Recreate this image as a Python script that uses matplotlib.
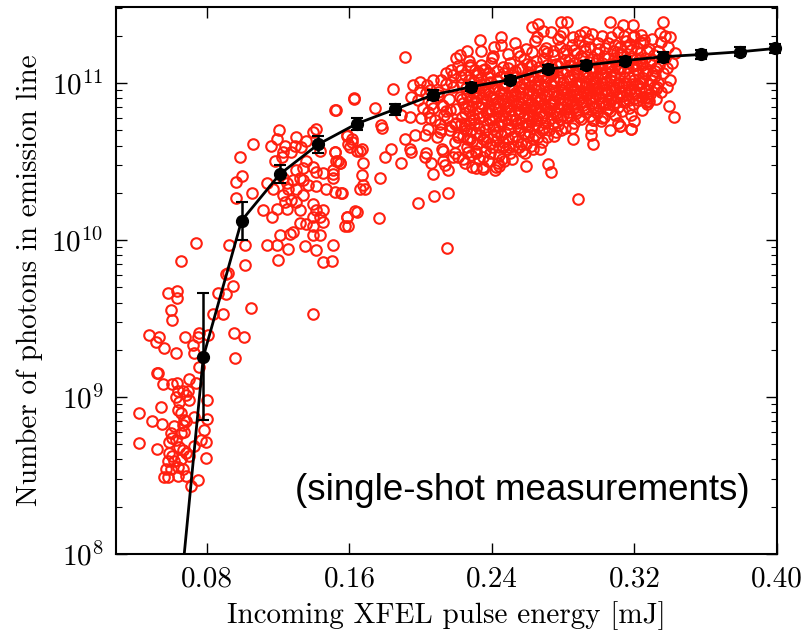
import matplotlib
matplotlib.use("Agg")
import matplotlib.pyplot as plt
import numpy as np

# single-shot measurements, (pulse energy [mJ], photons)
shots_low = [
    (0.0738, 9.6e9), (0.0922, 9.3e9), (0.1015, 9.3e9), (0.0654, 7.3e9), (0.1015, 6.9e9),
    (0.0916, 6.2e9), (0.0907, 6.1e9), (0.0948, 5.1e9), (0.0583, 4.6e9), (0.0632, 4.75e9),
    (0.0632, 4.3e9), (0.0860, 4.6e9), (0.0907, 4.5e9), (0.1047, 3.7e9), (0.0598, 3.6e9),
    (0.0604, 3.1e9), (0.0832, 3.4e9), (0.0888, 3.4e9), (0.0477, 2.5e9), (0.0533, 2.4e9),
    (0.0514, 2.25e9), (0.0677, 2.4e9), (0.0748, 2.4e9), (0.0757, 2.55e9), (0.0804, 2.5e9),
    (0.0953, 2.55e9), (0.1010, 2.4e9), (0.0561, 2.05e9), (0.0723, 2.15e9), (0.0725, 1.9e9),
    (0.0626, 1.9e9), (0.0957, 1.76e9), (0.0757, 1.56e9), (0.0520, 1.43e9), (0.0523, 1.42e9),
    (0.0551, 1.21e9), (0.0607, 1.21e9), (0.0632, 1.22e9), (0.0701, 1.31e9), (0.0738, 1.22e9),
    (0.0636, 1.1e9), (0.0664, 1.1e9), (0.0692, 1.1e9), (0.0626, 1.0e9), (0.0682, 1.03e9),
    (0.0645, 9.3e8), (0.0701, 9.6e8), (0.0798, 9.6e8), (0.0417, 7.9e8), (0.0542, 8.6e8),
    (0.0636, 8.3e8), (0.0654, 7.9e8), (0.0491, 7.0e8), (0.0548, 6.7e8), (0.0673, 7.1e8),
    (0.0682, 7.0e8), (0.0729, 7.5e8), (0.0798, 7.2e8), (0.0617, 6.5e8), (0.0664, 6.6e8),
    (0.0598, 5.9e8), (0.0604, 5.5e8), (0.0654, 5.9e8), (0.0673, 5.95e8), (0.0785, 6.2e8),
    (0.0420, 5.1e8), (0.0520, 4.7e8), (0.0589, 5.2e8), (0.0626, 5.3e8), (0.0645, 4.8e8),
    (0.0729, 4.9e8), (0.0766, 5.3e8), (0.0795, 5.2e8), (0.0589, 4.4e8), (0.0607, 4.2e8),
    (0.0664, 4.6e8), (0.0682, 4.4e8), (0.0701, 4.2e8), (0.0580, 3.9e8), (0.0617, 3.9e8),
    (0.0654, 4.0e8), (0.0795, 4.1e8), (0.0570, 3.5e8), (0.0598, 3.5e8), (0.0636, 3.6e8),
    (0.0664, 3.5e8), (0.0561, 3.1e8), (0.0580, 3.1e8), (0.0636, 3.15e8), (0.0682, 3.15e8),
    (0.0748, 2.95e8), (0.0710, 2.7e8), (0.1393, 3.4e9),
]

shots_rise = [
    (0.1627, 8.0e10), (0.1522, 6.7e10), (0.1584, 4.7e10), (0.1612, 4.2e10), (0.1640, 3.7e10),
    (0.1603, 3.9e10), (0.1206, 5.0e10), (0.1191, 4.4e10), (0.1159, 4.0e10), (0.1238, 4.0e10),
    (0.1228, 3.65e10), (0.1182, 3.2e10), (0.1219, 3.4e10), (0.1275, 3.65e10), (0.1303, 4.5e10),
    (0.1294, 4.0e10), (0.1331, 3.9e10), (0.1359, 4.3e10), (0.1397, 4.9e10), (0.1412, 5.1e10),
    (0.1434, 3.7e10), (0.1359, 3.2e10), (0.1341, 2.86e10), (0.1397, 2.9e10), (0.1415, 2.7e10),
    (0.1453, 2.66e10), (0.1303, 2.8e10), (0.1322, 2.5e10), (0.1341, 2.4e10), (0.1284, 2.4e10),
    (0.1247, 2.3e10), (0.1228, 2.5e10), (0.1135, 2.3e10), (0.1172, 2.1e10), (0.1256, 2.1e10),
    (0.1303, 2.1e10), (0.1369, 2.24e10), (0.1415, 2.2e10), (0.1471, 2.1e10), (0.1509, 2.5e10),
    (0.1518, 3.65e10), (0.1537, 3.2e10), (0.1546, 3.1e10), (0.1509, 2.8e10), (0.1556, 2.0e10),
    (0.1228, 1.94e10), (0.1275, 1.8e10), (0.1341, 1.94e10), (0.1303, 1.75e10), (0.1238, 1.75e10),
    (0.1191, 1.57e10), (0.1247, 1.57e10), (0.1322, 1.56e10), (0.1397, 1.7e10), (0.1415, 1.56e10),
    (0.1453, 1.56e10), (0.1116, 1.56e10), (0.1163, 1.41e10), (0.1397, 1.41e10), (0.1434, 1.41e10),
    (0.1453, 1.31e10), (0.1322, 1.28e10), (0.1359, 1.27e10), (0.1397, 1.22e10), (0.1284, 1.13e10),
    (0.1266, 1.1e10), (0.1210, 1.08e10), (0.1397, 1.08e10), (0.1434, 1.08e10), (0.1350, 9.1e9),
    (0.1415, 8.6e9), (0.1509, 9.3e9), (0.1135, 9.3e9), (0.1191, 9.3e9), (0.1256, 8.8e9),
    (0.1200, 7.5e9), (0.1453, 7.2e9), (0.1500, 7.3e9), (0.1584, 1.41e10), (0.1593, 1.22e10),
    (0.1640, 1.51e10), (0.1659, 2.1e10), (0.1060, 4.1e10), (0.0985, 3.4e10), (0.0995, 2.57e10),
    (0.0963, 2.33e10), (0.1056, 2.0e10), (0.0963, 1.84e10),
]

shots_mid = [
    (0.2332, 1.88e11), (0.2449, 1.97e11), (0.1914, 1.47e11), (0.2201, 1.45e11), (0.2406, 1.49e11),
    (0.2397, 1.35e11), (0.2275, 1.27e11), (0.2303, 1.21e11), (0.2350, 1.21e11), (0.2173, 1.21e11),
    (0.2229, 1.1e11), (0.1842, 9.2e10), (0.1958, 9.7e10), (0.1999, 1.02e11), (0.2036, 9.7e10),
    (0.2116, 1.04e11), (0.2145, 9.9e10), (0.1625, 7.9e10), (0.1524, 6.7e10), (0.1742, 6.9e10),
    (0.1948, 8.2e10), (0.1986, 7.8e10), (0.1995, 9.0e10), (0.2051, 9.0e10), (0.2098, 8.4e10),
    (0.2014, 6.9e10), (0.2004, 6.0e10), (0.2051, 6.0e10), (0.2070, 6.9e10), (0.2126, 7.1e10),
    (0.2145, 6.6e10), (0.1939, 6.1e10), (0.1892, 6.25e10), (0.1780, 5.4e10), (0.1785, 5.2e10),
    (0.1584, 4.6e10), (0.1612, 4.4e10), (0.1911, 4.4e10), (0.1967, 4.7e10), (0.2023, 4.7e10),
    (0.2107, 5.5e10), (0.2116, 5.1e10), (0.2042, 5.1e10), (0.2163, 5.0e10), (0.2229, 5.5e10),
    (0.1593, 4.1e10), (0.1668, 3.8e10), (0.1658, 3.7e10), (0.1836, 3.8e10), (0.1799, 3.4e10),
    (0.1939, 3.8e10), (0.1948, 3.65e10), (0.2032, 3.56e10), (0.2023, 3.4e10), (0.2060, 3.1e10),
    (0.1518, 3.65e10), (0.1527, 3.2e10), (0.1546, 3.1e10), (0.1509, 2.65e10), (0.1677, 3.1e10),
    (0.1892, 3.1e10), (0.2126, 3.2e10), (0.2154, 2.8e10), (0.2070, 2.65e10), (0.2191, 3.56e10),
    (0.2210, 3.4e10), (0.2247, 3.1e10), (0.1668, 2.6e10), (0.1518, 2.03e10), (0.1555, 2.0e10),
    (0.1677, 2.24e10), (0.1686, 2.1e10), (0.1774, 2.5e10), (0.1986, 1.73e10), (0.2073, 1.9e10),
    (0.2154, 1.98e10), (0.1630, 1.53e10), (0.1584, 1.41e10), (0.1574, 1.23e10), (0.1767, 1.39e10),
    (0.2148, 8.9e9), (0.2266, 3.65e10), (0.2313, 2.86e10), (0.2350, 2.9e10), (0.2425, 2.9e10),
    (0.2434, 3.1e10), (0.2462, 3.9e10), (0.2313, 3.7e10), (0.2369, 4.2e10), (0.2275, 4.4e10),
    (0.2210, 4.55e10), (0.2257, 5.0e10), (0.2135, 3.0e10), (0.2126, 3.7e10), (0.2192, 5.5e10),
    (0.2164, 6.7e10), (0.2182, 1.12e11), (0.2229, 1.21e11), (0.2276, 1.3e11),
]

shots_edge = [
    (0.2883, 1.83e10), (0.2590, 2.98e10), (0.2715, 3.05e10), (0.2734, 2.73e10), (0.2351, 2.85e10),
    (0.2416, 2.8e10), (0.2440, 2.95e10), (0.2631, 3.8e10), (0.2855, 4.4e10), (0.2968, 4.1e10),
    (0.2958, 4.7e10), (0.3061, 5.0e10), (0.3121, 5.3e10), (0.3183, 5.1e10), (0.3196, 5.7e10),
    (0.3394, 7.1e10), (0.3420, 6.1e10), (0.3327, 9.4e10), (0.3314, 1.11e11), (0.3263, 7.6e10),
    (0.3267, 8.1e10), (0.2627, 2.29e11), (0.2659, 2.38e11), (0.2790, 2.46e11), (0.2824, 2.44e11),
    (0.3061, 2.44e11), (0.3360, 2.43e11), (0.3136, 2.35e11), (0.3192, 2.35e11), (0.2687, 2.16e11),
    (0.2734, 2.1e11), (0.2799, 2.1e11), (0.3401, 1.97e11), (0.3342, 2.07e11), (0.3239, 2.02e11),
    (0.3108, 2.12e11), (0.2897, 2.02e11), (0.2921, 2.1e11), (0.2967, 5.8e10), (0.2958, 5.2e10),
    (0.3117, 5.3e10), (0.3180, 5.1e10), (0.3322, 9.2e10), (0.3276, 8.0e10),
]

shots_dense = [
    (0.206, 7.4e10), (0.208, 5.8e10), (0.210, 8.8e10), (0.211, 4.9e10), (0.213, 6.3e10),
    (0.214, 1.15e11), (0.216, 7.9e10), (0.217, 5.3e10), (0.218, 9.4e10), (0.219, 4.2e10),
    (0.220, 6.8e10), (0.221, 1.28e11), (0.222, 8.1e10), (0.207, 1.05e11), (0.209, 4.5e10),
    (0.212, 3.8e10), (0.215, 6.0e10), (0.218, 3.4e10), (0.220, 5.6e10), (0.221, 4.7e10),
    (0.204, 6.5e10), (0.203, 8.6e10), (0.212, 7.2e10), (0.217, 1.02e11), (0.222, 1.5e11),
    (0.223, 6.1e10), (0.223, 9.9e10), (0.224, 4.6e10), (0.224, 7.5e10), (0.225, 5.4e10),
    (0.225, 1.12e11), (0.226, 8.4e10), (0.226, 3.9e10), (0.227, 6.6e10), (0.227, 1.38e11),
    (0.228, 5.0e10), (0.228, 9.1e10), (0.229, 7.1e10), (0.229, 4.3e10), (0.230, 1.02e11),
    (0.230, 5.9e10), (0.231, 8.0e10), (0.231, 3.6e10), (0.232, 6.4e10), (0.232, 1.18e11),
    (0.226, 1.6e11), (0.229, 2.9e10), (0.224, 3.3e10), (0.231, 4.8e10), (0.228, 7.8e10),
    (0.225, 6.9e10), (0.230, 8.9e10), (0.227, 5.6e10), (0.232, 9.6e10), (0.223, 7.9e10),
    (0.233, 5.2e10), (0.233, 8.6e10), (0.234, 7.0e10), (0.234, 1.3e11), (0.235, 4.4e10),
    (0.235, 6.2e10), (0.236, 9.8e10), (0.236, 3.7e10), (0.237, 7.7e10), (0.237, 5.5e10),
    (0.238, 1.1e11), (0.238, 6.8e10), (0.239, 4.1e10), (0.239, 8.3e10), (0.240, 5.9e10),
    (0.240, 1.45e11), (0.241, 7.3e10), (0.241, 4.7e10), (0.242, 9.2e10), (0.242, 6.1e10),
    (0.233, 3.3e10), (0.236, 1.22e11), (0.238, 3.2e10), (0.240, 3.9e10), (0.234, 1.6e11),
    (0.237, 6.5e10), (0.239, 1.02e11), (0.241, 5.3e10), (0.235, 8.0e10), (0.242, 7.9e10),
    (0.236, 5.0e10), (0.238, 8.9e10), (0.240, 6.6e10), (0.234, 9.4e10), (0.241, 1.7e11),
    (0.243, 4.9e10), (0.243, 1.05e11), (0.244, 6.9e10), (0.244, 3.5e10), (0.245, 8.5e10),
    (0.245, 5.7e10), (0.246, 1.27e11), (0.246, 4.2e10), (0.247, 7.4e10), (0.247, 9.7e10),
    (0.248, 6.0e10), (0.248, 3.8e10), (0.249, 8.1e10), (0.249, 1.52e11), (0.250, 5.1e10),
    (0.250, 6.7e10), (0.251, 1.12e11), (0.251, 4.5e10), (0.252, 7.7e10), (0.252, 9.0e10),
    (0.243, 7.6e10), (0.244, 5.3e10), (0.245, 1.75e11), (0.246, 6.3e10), (0.247, 3.2e10),
    (0.248, 1.0e11), (0.249, 5.5e10), (0.250, 1.35e11), (0.251, 6.2e10), (0.252, 4.0e10),
    (0.244, 8.9e10), (0.246, 9.3e10), (0.248, 7.1e10), (0.250, 3.6e10), (0.247, 1.15e11),
    (0.249, 4.4e10), (0.251, 8.4e10), (0.245, 4.7e10),
    (0.253, 5.8e10), (0.253, 1.2e11), (0.254, 7.2e10), (0.254, 4.3e10), (0.255, 9.5e10),
    (0.255, 6.4e10), (0.256, 1.48e11), (0.256, 5.0e10), (0.257, 8.2e10), (0.257, 3.7e10),
    (0.258, 1.08e11), (0.258, 6.9e10), (0.259, 5.4e10), (0.259, 1.65e11), (0.260, 7.8e10),
    (0.260, 4.6e10), (0.261, 9.0e10), (0.261, 6.0e10), (0.262, 1.3e11), (0.262, 7.4e10),
    (0.253, 8.7e10), (0.254, 1.03e11), (0.255, 3.9e10), (0.256, 6.6e10), (0.257, 5.6e10),
    (0.258, 9.8e10), (0.259, 4.1e10), (0.260, 1.18e11), (0.261, 4.9e10), (0.262, 5.7e10),
    (0.254, 5.6e10), (0.256, 8.8e10), (0.258, 4.8e10), (0.260, 6.3e10), (0.257, 1.25e11),
    (0.259, 7.0e10), (0.261, 1.05e11), (0.255, 7.6e10), (0.253, 1.8e11), (0.262, 9.6e10),
    (0.263, 6.2e10), (0.263, 1.1e11), (0.264, 8.0e10), (0.264, 4.7e10), (0.265, 1.38e11),
    (0.265, 7.0e10), (0.266, 5.3e10), (0.266, 9.4e10), (0.267, 1.2e11), (0.267, 6.5e10),
    (0.268, 4.2e10), (0.268, 8.6e10), (0.269, 1.6e11), (0.269, 7.3e10), (0.270, 5.6e10),
    (0.270, 1.03e11), (0.271, 6.8e10), (0.271, 1.3e11), (0.272, 8.9e10), (0.272, 5.0e10),
    (0.263, 8.6e10), (0.264, 1.85e11), (0.265, 5.8e10), (0.266, 7.6e10), (0.267, 3.8e10),
    (0.268, 1.12e11), (0.269, 5.2e10), (0.270, 8.2e10), (0.271, 4.5e10), (0.272, 1.18e11),
    (0.264, 6.7e10), (0.266, 1.05e11), (0.268, 6.1e10), (0.270, 7.0e10), (0.265, 9.0e10),
    (0.267, 8.0e10), (0.269, 9.6e10), (0.271, 1.55e11), (0.263, 4.4e10), (0.272, 6.6e10),
    (0.273, 7.4e10), (0.273, 1.25e11), (0.274, 5.5e10), (0.274, 9.6e10), (0.275, 1.5e11),
    (0.275, 6.6e10), (0.276, 8.3e10), (0.276, 4.9e10), (0.277, 1.1e11), (0.277, 7.0e10),
    (0.278, 1.7e11), (0.278, 5.9e10), (0.279, 9.0e10), (0.279, 1.35e11), (0.280, 6.3e10),
    (0.280, 1.02e11), (0.281, 7.8e10), (0.281, 5.2e10), (0.282, 1.2e11), (0.282, 8.7e10),
    (0.273, 9.9e10), (0.274, 7.7e10), (0.275, 4.6e10), (0.276, 1.32e11), (0.277, 5.4e10),
    (0.278, 8.0e10), (0.279, 6.8e10), (0.280, 1.55e11), (0.281, 9.4e10), (0.282, 6.1e10),
    (0.274, 1.15e11), (0.276, 6.4e10), (0.278, 1.04e11), (0.280, 8.5e10), (0.275, 8.8e10),
    (0.277, 1.9e11), (0.279, 5.0e10), (0.281, 1.4e11), (0.273, 6.0e10), (0.282, 7.3e10),
    (0.283, 8.0e10), (0.283, 1.4e11), (0.284, 6.2e10), (0.284, 1.05e11), (0.285, 1.75e11),
    (0.285, 7.4e10), (0.286, 9.2e10), (0.286, 5.6e10), (0.287, 1.22e11), (0.287, 8.5e10),
    (0.288, 1.55e11), (0.288, 6.7e10), (0.289, 1.0e11), (0.289, 7.9e10), (0.290, 1.3e11),
    (0.290, 5.9e10), (0.291, 8.8e10), (0.291, 1.12e11), (0.292, 6.9e10), (0.292, 1.6e11),
    (0.283, 1.1e11), (0.284, 8.4e10), (0.285, 5.2e10), (0.286, 1.35e11), (0.287, 6.4e10),
    (0.288, 9.6e10), (0.289, 1.85e11), (0.290, 9.9e10), (0.291, 7.2e10), (0.292, 9.4e10),
    (0.284, 1.28e11), (0.286, 7.0e10), (0.288, 1.15e11), (0.290, 8.2e10), (0.285, 9.6e10),
    (0.287, 1.02e11), (0.289, 6.1e10), (0.291, 1.45e11), (0.283, 6.5e10), (0.292, 1.2e11),
    (0.293, 8.4e10), (0.293, 1.3e11), (0.294, 6.8e10), (0.294, 1.1e11), (0.295, 1.7e11),
    (0.295, 9.0e10), (0.296, 7.5e10), (0.296, 1.42e11), (0.297, 5.8e10), (0.297, 1.02e11),
    (0.298, 1.25e11), (0.298, 8.1e10), (0.299, 6.4e10), (0.299, 1.55e11), (0.300, 9.4e10),
    (0.300, 7.1e10), (0.301, 1.16e11), (0.301, 8.7e10), (0.302, 1.35e11), (0.302, 6.0e10),
    (0.293, 1.0e11), (0.294, 1.9e11), (0.295, 6.2e10), (0.296, 9.8e10), (0.297, 1.2e11),
    (0.298, 6.9e10), (0.299, 9.1e10), (0.300, 1.28e11), (0.301, 7.6e10), (0.302, 1.0e11),
    (0.294, 8.6e10), (0.296, 1.2e11), (0.298, 1.0e11), (0.300, 1.65e11), (0.297, 8.3e10),
    (0.299, 1.1e11), (0.301, 5.7e10), (0.295, 1.25e11),
    (0.303, 9.0e10), (0.303, 1.48e11), (0.304, 7.3e10), (0.304, 1.18e11), (0.305, 1.8e11),
    (0.305, 8.6e10), (0.306, 6.6e10), (0.306, 1.05e11), (0.307, 1.32e11), (0.307, 7.8e10),
    (0.308, 1.6e11), (0.308, 9.5e10), (0.309, 6.3e10), (0.309, 1.12e11), (0.310, 8.2e10),
    (0.310, 1.38e11), (0.311, 1.0e11), (0.311, 7.0e10), (0.312, 1.22e11), (0.312, 1.7e11),
    (0.303, 6.1e10), (0.304, 1.0e11), (0.305, 1.28e11), (0.306, 8.0e10), (0.307, 1.95e11),
    (0.308, 7.2e10), (0.309, 9.0e10), (0.310, 1.58e11), (0.311, 1.25e11), (0.312, 8.8e10),
    (0.305, 6.8e10), (0.307, 1.1e11), (0.309, 1.45e11), (0.311, 5.6e10),
    (0.313, 9.6e10), (0.313, 1.52e11), (0.314, 7.6e10), (0.314, 1.2e11), (0.315, 1.85e11),
    (0.315, 1.0e11), (0.316, 8.4e10), (0.316, 1.35e11), (0.317, 6.9e10), (0.317, 1.1e11),
    (0.318, 1.62e11), (0.318, 9.2e10), (0.319, 1.28e11), (0.319, 7.4e10), (0.320, 1.05e11),
    (0.320, 2.0e11), (0.321, 8.7e10), (0.321, 1.42e11), (0.322, 1.15e11), (0.322, 7.8e10),
    (0.313, 6.6e10), (0.314, 1.0e11), (0.316, 1.7e11), (0.317, 8.9e10), (0.318, 6.3e10),
    (0.319, 1.95e11), (0.320, 8.6e10), (0.321, 1.22e11), (0.315, 1.4e11), (0.322, 9.7e10),
    (0.323, 1.0e11), (0.323, 1.55e11), (0.324, 8.2e10), (0.324, 1.3e11), (0.325, 1.8e11),
    (0.325, 1.08e11), (0.326, 9.0e10), (0.326, 1.45e11), (0.327, 7.3e10), (0.327, 1.2e11),
    (0.328, 1.65e11), (0.328, 9.8e10), (0.329, 1.35e11), (0.329, 8.5e10), (0.330, 1.12e11),
    (0.330, 1.9e11), (0.331, 9.4e10), (0.331, 1.5e11), (0.332, 1.25e11), (0.332, 7.9e10),
    (0.324, 6.7e10), (0.326, 1.15e11), (0.328, 7.7e10), (0.330, 1.4e11),
    (0.333, 1.0e11), (0.333, 1.6e11), (0.334, 1.3e11), (0.335, 8.8e10), (0.335, 1.82e11),
    (0.336, 1.15e11), (0.337, 1.45e11), (0.338, 9.5e10), (0.338, 1.25e11), (0.339, 1.7e11),
    (0.340, 1.05e11), (0.341, 1.35e11), (0.343, 1.55e11), (0.337, 1.98e11),
]

# filler read from the densest part of the cloud
shots_core = [
    (0.2245, 5.2e10), (0.2262, 4.4e10), (0.2281, 3.5e10), (0.2298, 5.5e10), (0.2317, 4.1e10),
    (0.2334, 4.7e10), (0.2352, 3.4e10), (0.2371, 4.5e10), (0.2388, 3.6e10), (0.2405, 5.1e10),
    (0.2423, 4.3e10), (0.2441, 3.9e10), (0.2458, 3.3e10), (0.2476, 4.9e10), (0.2494, 3.9e10),
    (0.2512, 3.3e10), (0.2531, 4.6e10), (0.2549, 5.2e10), (0.2566, 4.1e10), (0.2585, 3.6e10),
    (0.2603, 5.3e10), (0.2621, 4.0e10), (0.2644, 5.5e10), (0.2661, 4.5e10), (0.2683, 5.0e10),
    (0.2247, 6.4e10), (0.2268, 7.1e10), (0.2289, 6.1e10), (0.2311, 7.6e10), (0.2327, 6.0e10),
    (0.2346, 7.3e10), (0.2364, 6.5e10), (0.2383, 5.9e10), (0.2402, 8.1e10), (0.2418, 6.9e10),
    (0.2437, 6.2e10), (0.2455, 7.8e10), (0.2473, 6.6e10), (0.2491, 7.0e10), (0.2508, 5.8e10),
    (0.2527, 8.3e10), (0.2545, 6.8e10), (0.2563, 7.4e10), (0.2582, 6.2e10), (0.2601, 8.6e10),
    (0.2618, 6.6e10), (0.2636, 7.2e10), (0.2654, 6.0e10), (0.2673, 7.8e10), (0.2691, 6.3e10),
    (0.2709, 8.4e10), (0.2727, 6.9e10), (0.2746, 7.4e10), (0.2764, 6.1e10), (0.2783, 7.5e10),
    (0.2801, 9.0e10), (0.2819, 6.8e10), (0.2838, 7.7e10), (0.2856, 8.9e10), (0.2874, 7.3e10),
    (0.2893, 8.6e10), (0.2911, 7.7e10), (0.2929, 6.5e10), (0.2948, 8.0e10), (0.2966, 7.0e10),
    (0.2984, 9.3e10), (0.3003, 8.0e10), (0.3021, 7.5e10), (0.3039, 9.2e10), (0.3058, 7.4e10),
    (0.3076, 8.9e10), (0.3094, 7.6e10), (0.3113, 9.5e10), (0.3131, 8.3e10), (0.3149, 9.0e10),
    (0.3168, 7.8e10), (0.3186, 9.9e10), (0.3204, 8.0e10), (0.3223, 9.1e10), (0.3241, 1.0e11),
    (0.2253, 9.3e10), (0.2274, 1.05e11), (0.2295, 8.6e10), (0.2316, 1.12e11), (0.2339, 1.08e11),
    (0.2361, 8.9e10), (0.2383, 1.16e11), (0.2404, 9.5e10), (0.2426, 1.2e11), (0.2447, 1.1e11),
    (0.2469, 8.6e10), (0.2491, 1.25e11), (0.2512, 9.4e10), (0.2534, 1.1e11), (0.2556, 1.22e11),
    (0.2577, 9.2e10), (0.2599, 1.32e11), (0.2621, 1.13e11), (0.2642, 9.7e10), (0.2664, 1.27e11),
    (0.2686, 1.42e11), (0.2707, 1.08e11), (0.2729, 1.18e11), (0.2751, 1.04e11), (0.2772, 1.28e11),
    (0.2794, 1.15e11), (0.2816, 1.62e11), (0.2837, 1.31e11), (0.2859, 1.12e11), (0.2881, 1.25e11),
    (0.2902, 1.48e11), (0.2924, 1.19e11), (0.2946, 1.36e11), (0.2967, 1.08e11), (0.2989, 1.4e11),
    (0.3011, 1.22e11), (0.3032, 1.1e11), (0.3054, 1.45e11), (0.3076, 1.2e11), (0.3097, 1.33e11),
    (0.3119, 1.52e11), (0.3141, 1.1e11), (0.3162, 1.25e11), (0.3184, 1.45e11), (0.3206, 1.3e11),
    (0.3227, 1.4e11), (0.3249, 1.2e11), (0.3271, 1.6e11), (0.3293, 1.05e11), (0.3318, 1.2e11),
    (0.2579, 1.42e11), (0.2623, 1.58e11), (0.2702, 1.68e11), (0.2742, 1.6e11), (0.2863, 1.62e11),
    (0.2918, 1.72e11), (0.2997, 1.8e11), (0.3036, 1.66e11), (0.3089, 1.75e11), (0.3174, 1.78e11),
    (0.3212, 1.68e11), (0.3252, 1.88e11), (0.2655, 1.95e11), (0.2783, 2.0e11), (0.2853, 1.95e11),
    (0.2962, 2.05e11), (0.3019, 1.98e11), (0.3139, 1.98e11), (0.3231, 1.82e11), (0.2549, 1.58e11),
]

# binned averages with error bars
bin_x = [0.078, 0.0995, 0.121, 0.1425, 0.164, 0.1855, 0.207, 0.2285,
         0.250, 0.2715, 0.293, 0.3145, 0.336, 0.3575, 0.379, 0.399]
bin_y = [1.8e9, 1.33e10, 2.63e10, 4.07e10, 5.5e10, 6.8e10, 8.4e10, 9.47e10,
         1.05e11, 1.23e11, 1.30e11, 1.39e11, 1.47e11, 1.52e11, 1.58e11, 1.66e11]
bin_lo = [7.1e8, 1.0e10, 2.3e10, 3.6e10, 5.0e10, 6.3e10, 7.8e10, 8.9e10,
          9.9e10, 1.15e11, 1.22e11, 1.31e11, 1.37e11, 1.42e11, 1.48e11, 1.56e11]
bin_hi = [4.6e9, 1.75e10, 3.0e10, 4.6e10, 6.0e10, 7.4e10, 9.0e10, 1.0e11,
          1.11e11, 1.30e11, 1.38e11, 1.47e11, 1.57e11, 1.63e11, 1.69e11, 1.77e11]
# where the fitted line leaves the bottom of the plot
line_start = (0.0673, 1.0e8)

plt.rcParams["font.family"] = "serif"
plt.rcParams["font.serif"] = ["cmr10"]
plt.rcParams["mathtext.fontset"] = "cm"
plt.rcParams["axes.formatter.use_mathtext"] = True

fig = plt.figure(figsize=(8.05, 6.3), dpi=100)
ax = fig.add_axes([0.1441, 0.1206, 0.8211, 0.8683])

shots = np.array(shots_low + shots_rise + shots_mid + shots_edge + shots_dense + shots_core)
ax.plot(shots[:, 0], shots[:, 1], "o", ms=7.6, mfc="none", mec="#ff2010", mew=1.5, zorder=2)

ax.plot([line_start[0]] + bin_x, [line_start[1]] + bin_y, "-", color="black", lw=2.0, zorder=3)
by = np.array(bin_y)
yerr = [by - np.array(bin_lo), np.array(bin_hi) - by]
ax.errorbar(bin_x, bin_y, yerr=yerr, fmt="o", color="black", ms=8.5, elinewidth=1.8,
            capsize=4, capthick=1.5, zorder=4, clip_on=False)

ax.set_yscale("log")
ax.set_xlim(0.029, 0.40)
ax.set_ylim(1e8, 3.05e11)
ax.set_xticks([0.08, 0.16, 0.24, 0.32, 0.40])
ax.set_xticklabels(["0.08", "0.16", "0.24", "0.32", "0.40"])
ax.tick_params(which="both", direction="in", top=True, right=True, labelsize=21)
ax.tick_params(which="major", length=8, width=1.0, pad=9)
ax.tick_params(which="minor", length=4, width=0.8)
ax.tick_params(axis="x", which="minor", bottom=False, top=False)
for s in ax.spines.values():
    s.set_linewidth(1.5)

ax.set_xlabel("Incoming XFEL pulse energy [mJ]", fontsize=21, labelpad=6)
ax.set_ylabel("Number of photons in emission line", fontsize=21, labelpad=6)

ax.text(0.959, 0.099, "(single-shot measurements)", transform=ax.transAxes,
        ha="right", va="baseline", fontsize=26.5, family="Liberation Sans")

fig.savefig("out.png", dpi=100)
